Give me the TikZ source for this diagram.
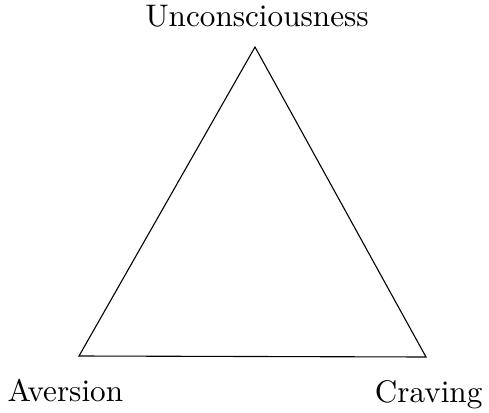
\documentclass[tikz,border=0pt]{standalone}
\begin{document}
\begin{tikzpicture}[x=1pt,y=-1pt,
  lbl/.style={inner sep=0pt,font=\normalsize,scale=3.12},
  edge/.style={line width=1.1pt,line join=miter}]
\useasboundingbox (0,0) rectangle (489,412);
\coordinate (top) at (255,47);
\coordinate (bl) at (79,356);
\coordinate (br) at (426,357);
\draw[edge] (top) -- (bl) -- (br) -- cycle;
\node[lbl,anchor=base] (u) at (257,27) {Unconsciousness};
\node[lbl,anchor=base west] (a) at (7,401) {Aversion};
\node[lbl,anchor=base east] (c) at (483,402) {Craving};
\end{tikzpicture}
\end{document}
